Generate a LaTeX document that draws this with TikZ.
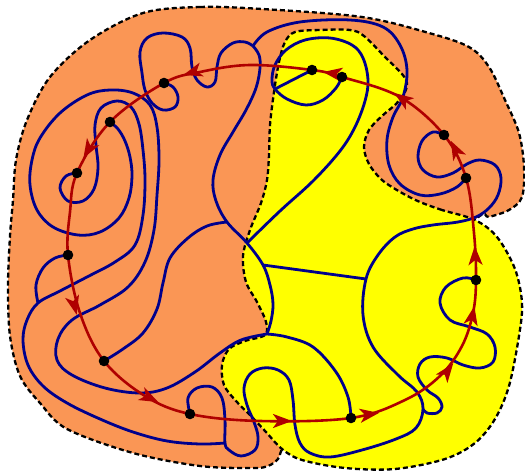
\documentclass[tikz,border=0pt]{standalone}
\usetikzlibrary{arrows.meta}
\definecolor{mapblue}{RGB}{0,0,140}
\definecolor{maporange}{RGB}{250,150,85}
\definecolor{mapyellow}{RGB}{255,255,0}
\definecolor{mapred}{RGB}{175,0,0}

\begin{document}
\begin{tikzpicture}[x=1pt, y=-1pt,
  region/.style={draw=black, line width=2.3pt, dash pattern=on 5pt off 3pt},
  wire/.style={mapblue, line width=2.8pt, smooth, tension=0.6},
  redtip/.style={mapred, line width=2.6pt, -{Stealth[length=19pt, width=14pt, inset=5pt]}}]
  \useasboundingbox (0,0) rectangle (525,473);

  % dots on the red loop
  \coordinate (d1) at (312,70);
  \coordinate (d2) at (342,77);
  \coordinate (d3) at (444,135);
  \coordinate (d4) at (466,178);
  \coordinate (d5) at (476,280);
  \coordinate (d6) at (351,418);
  \coordinate (d7) at (190,414);
  \coordinate (d8) at (104,361);
  \coordinate (d9) at (68,255);
  \coordinate (d10) at (77,173);
  \coordinate (d11) at (110,122);
  \coordinate (d12) at (164,83);
  % branch points
  \coordinate (j0) at (253,46);
  \coordinate (j1) at (227,222);
  \coordinate (j2) at (247,243);
  \coordinate (j3) at (263,265);
  \coordinate (j4) at (275,89);
  \coordinate (j5) at (267,334);
  \coordinate (j6) at (366,279);
  \coordinate (j7) at (225,443);
  \coordinate (j8) at (423,409);
  \coordinate (j9) at (38,303);

  % regions
  \path[region, fill=maporange] plot[smooth cycle, tension=0.55] coordinates {
    (143,13) (200,7) (262,9) (362,17) (429,33) (469,47) (489,67) (505,100)
    (519,133) (524,167) (522,197) (509,210) (489,217) (475,220) (400,300)
    (300,410) (282,449) (278,459) (268,466) (253,468) (200,466) (133,453)
    (67,429) (40,403) (20,376) (10,336) (8,286) (10,236) (13,200) (16,160)
    (27,120) (50,77) (90,40)};
  \path[region, fill=mapyellow] plot[smooth cycle, tension=0.55] coordinates {
    (475,220) (442,210) (420,202) (402,193) (382,180) (369,164) (364,147)
    (369,130) (382,116) (396,104) (405,92) (407,83) (402,74) (385,57)
    (364,36) (350,30) (320,30) (295,32) (285,42) (279,62) (274,92)
    (270,125) (269,155) (267,180) (261,203) (250,230) (243,256) (246,282)
    (257,302) (266,322) (265,335) (245,341) (229,349) (222,365) (224,385)
    (236,401) (251,416) (266,432) (282,449) (302,460) (345,468) (395,469)
    (445,459) (475,443) (495,419) (509,386) (519,336) (522,303) (515,269)
    (497,237)};

  % blue graph
  \draw[wire] plot coordinates {(d12) (173,87) (178,97) (175,107) (163,110)
    (152,103) (145,90) (142,73) (140,52) (147,38) (163,33) (182,37) (190,48)
    (192,67) (197,80) (207,87) (215,82) (217,67) (221,53) (233,43) (245,42) (j0)};
  \draw[wire] plot coordinates {(j0) (259,55) (260,68) (256,88) (246,110)
    (233,132) (220,155) (213,180) (216,201) (j1) (j2) (j3) (270,285)
    (273,304) (271,321) (j5)};
  \draw[wire] plot coordinates {(j0) (267,32) (300,22) (350,20) (383,27)
    (400,45) (407,70) (403,97) (393,117) (387,140) (389,165) (400,184)
    (420,195) (440,194) (457,187) (d4)};
  \draw[wire] plot coordinates {(j2) (280,211) (313,181) (340,151) (355,127)
    (365,101) (368,80) (363,58) (352,45) (330,38) (305,40) (286,50) (275,65)
    (272,80) (j4) (287,99) (306,105) (323,100) (336,88) (d2)};
  \draw[mapblue, line width=2.8pt] (d1) -- (j4);
  \draw[wire] plot coordinates {(d8) (123,349) (143,333) (157,309) (163,283)
    (170,258) (188,238) (207,226) (j1)};
  \draw[mapblue, line width=2.8pt] (j3) -- (j6);
  \draw[wire] plot coordinates {(d11) (118,129) (125,141) (130,157) (132,176)
    (129,198) (119,218) (100,232) (78,235) (53,227) (37,210) (30,185)
    (32,160) (40,138) (60,113) (87,95) (110,90) (133,93) (150,105)
    (157,127) (159,160) (157,195) (154,230) (145,262) (128,287) (100,305)
    (72,320) (58,339) (57,360) (72,375) (105,388) (140,393) (167,388)
    (195,372) (220,353) (241,340) (j5)};
  \draw[wire] plot coordinates {(j5) (287,337) (313,347) (336,372) (348,397) (d6)};
  \draw[wire] plot coordinates {(d10) (66,176) (60,188) (68,201) (83,201)
    (94,189) (98,168) (96,145) (95,125) (101,108) (117,101) (131,107)
    (139,124) (143,150) (145,180) (143,215) (135,245) (115,262) (87,277)
    (60,291) (j9) (27,320) (23,340) (28,365) (43,386) (67,403) (100,419)
    (133,432) (167,441) (200,444) (j7)};
  \draw[wire] plot coordinates {(d9) (55,258) (43,268) (36,285) (j9)};
  \draw[wire] plot coordinates {(d3) (433,132) (422,141) (418,157) (423,170)
    (437,177) (453,173) (467,164) (480,160) (495,165) (501,178) (498,195)
    (489,208) (476,217) (458,222) (433,225) (413,229) (395,237) (378,255)
    (j6) (363,315) (373,347) (398,375) (417,392) (j8) (416,428) (396,439)
    (362,450) (330,457) (310,453) (300,443) (295,425) (293,400) (289,380)
    (278,370) (263,368) (250,374) (244,388) (247,405) (254,422) (258,437)
    (255,450) (241,456) (229,450) (j7) (225,420) (222,398) (212,387)
    (197,388) (188,398) (d7)};
  \draw[wire] plot coordinates {(d5) (463,278) (446,287) (440,303) (450,320)
    (470,327) (487,334) (495,347) (493,362) (480,368) (463,365) (447,358)
    (430,357) (420,364) (418,377) (427,390) (438,398) (442,407) (437,413)
    (427,413) (j8)};

  % red loop
  \draw[mapred, line width=2.6pt] plot[smooth cycle, tension=0.6] coordinates
    {(d1) (250,65) (200,72) (d12) (d11) (d10) (70,212) (d9) (80,313) (d8)
    (145,396) (d7) (260,421) (d6) (405,400) (440,376) (462,346) (473,313)
    (d5) (474,233) (d4) (d3) (400,97) (d2)};
  \foreach \x/\y/\u/\v in {190/73/-6.7/2, 87/152/-3.6/6.1, 75/308/1.7/6.8,
      152/399/6.3/3.1, 285/421/7/0, 372/414/6.9/-1, 449/369/4.2/-5.6,
      473/313/1.4/-6.9, 475/253/-0.3/-7, 454/147/-3.2/-6.2,
      400/97/-5.7/-4, 330/73/-6.9/-1}
    \draw[redtip] ({\x-\u},{\y-\v}) -- ({\x+\u},{\y+\v});

  \foreach \d in {d1,d2,d3,d4,d5,d6,d7,d8,d9,d10,d11,d12}
    \fill (\d) circle (5.3pt);
\end{tikzpicture}
\end{document}
